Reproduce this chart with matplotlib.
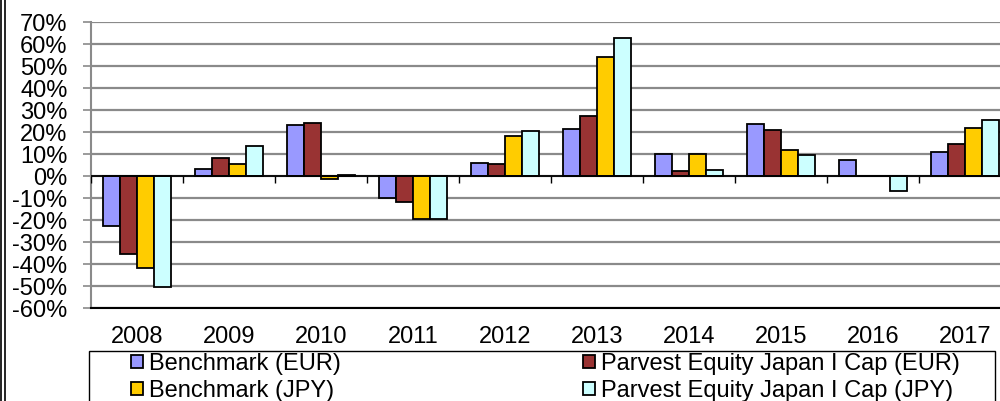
import matplotlib
matplotlib.use("Agg")
import matplotlib.pyplot as plt
import numpy as np
from matplotlib.patches import Rectangle
from matplotlib.lines import Line2D

plt.rcParams['font.family'] = ['Liberation Sans', 'DejaVu Sans']

years = ["2008", "2009", "2010", "2011", "2012", "2013", "2014", "2015", "2016", "2017"]
bench_eur = [-22.6, 3.2, 23.2, -9.9, 5.8, 21.2, 10.0, 23.6, 7.1, 11.0]
parvest_eur = [-35.5, 8.3, 24.0, -12.0, 5.5, 27.4, 2.4, 20.9, 0.2, 14.5]
bench_jpy = [-42.0, 5.5, -1.5, -19.5, 18.3, 54.2, 10.1, 12.0, 0.2, 22.0]
parvest_jpy = [-50.6, 13.6, 0.5, -19.5, 20.3, 62.6, 2.6, 9.5, -6.7, 25.5]

series = [
    ("Benchmark (EUR)", bench_eur, "#9999FF"),
    ("Benchmark (JPY)", bench_jpy, "#FFCC00"),
    ("Parvest Equity Japan I Cap (EUR)", parvest_eur, "#993333"),
    ("Parvest Equity Japan I Cap (JPY)", parvest_jpy, "#CCFFFF"),
]
draw_order = [0, 2, 1, 3]
FS = 17

fig = plt.figure(figsize=(10, 4.01), dpi=100)
ax = fig.add_axes([0.091, 0.2319, 0.92, 0.7132])

x = np.arange(len(years))
w = 0.185
offsets = [-1.5, -0.5, 0.5, 1.5]
handles = {}
for pos, idx in enumerate(draw_order):
    name, vals, col = series[idx]
    b = ax.bar(x + offsets[pos] * w, vals, w, color=col, edgecolor='black',
               linewidth=1.3, zorder=3, label=name)
    handles[idx] = b

ax.set_xlim(-0.5, len(years) - 0.5)
ax.set_ylim(-60, 70)
ax.set_yticks(np.arange(-60, 71, 10))
ax.set_yticklabels([f"{v}%" for v in range(-60, 71, 10)], fontsize=FS)
ax.yaxis.grid(True, color='#8a8a8a', linewidth=1.6, zorder=0)
ax.set_axisbelow(True)
ax.tick_params(axis='y', length=6, width=1.2, color='#8a8a8a', pad=11)

ax.set_xticks(x)
ax.set_xticklabels(years, fontsize=FS)
ax.tick_params(axis='x', length=0, pad=13)

for s in ['top', 'right']:
    ax.spines[s].set_visible(False)
ax.spines['left'].set_color('#8a8a8a')
ax.spines['left'].set_linewidth(1.5)
ax.spines['bottom'].set_color('black')
ax.spines['bottom'].set_linewidth(1.5)

ax.axhline(0, color='black', linewidth=1.3, zorder=4)
ax.vlines(np.arange(len(years) + 1) - 0.5, -3.0, 0, color='black', linewidth=1.0, zorder=4)

# legend box
fig.patches.append(Rectangle((0.089, -0.01), 0.906, (401 - 351) / 401 + 0.01,
                             transform=fig.transFigure, fill=False,
                             edgecolor='black', linewidth=1.0))
leg = fig.legend([handles[i] for i in range(4)], [series[i][0] for i in range(4)],
                 ncol=2, mode='expand', loc='upper left',
                 bbox_to_anchor=(0.131, 0.0, 0.960 - 0.131, (401 - 353) / 401),
                 bbox_transform=fig.transFigure,
                 frameon=False, fontsize=FS, borderpad=0.0, borderaxespad=0.0,
                 handlelength=0.5, handleheight=0.5, handletextpad=0.25,
                 labelspacing=0.2)

# outer double frame on the left
fig.add_artist(Line2D([0.001, 0.001], [0, 1], transform=fig.transFigure, color='black', linewidth=1.2))
fig.add_artist(Line2D([0.005, 0.005], [0, 1], transform=fig.transFigure, color='black', linewidth=1.2))

fig.savefig("out.png", dpi=100)
